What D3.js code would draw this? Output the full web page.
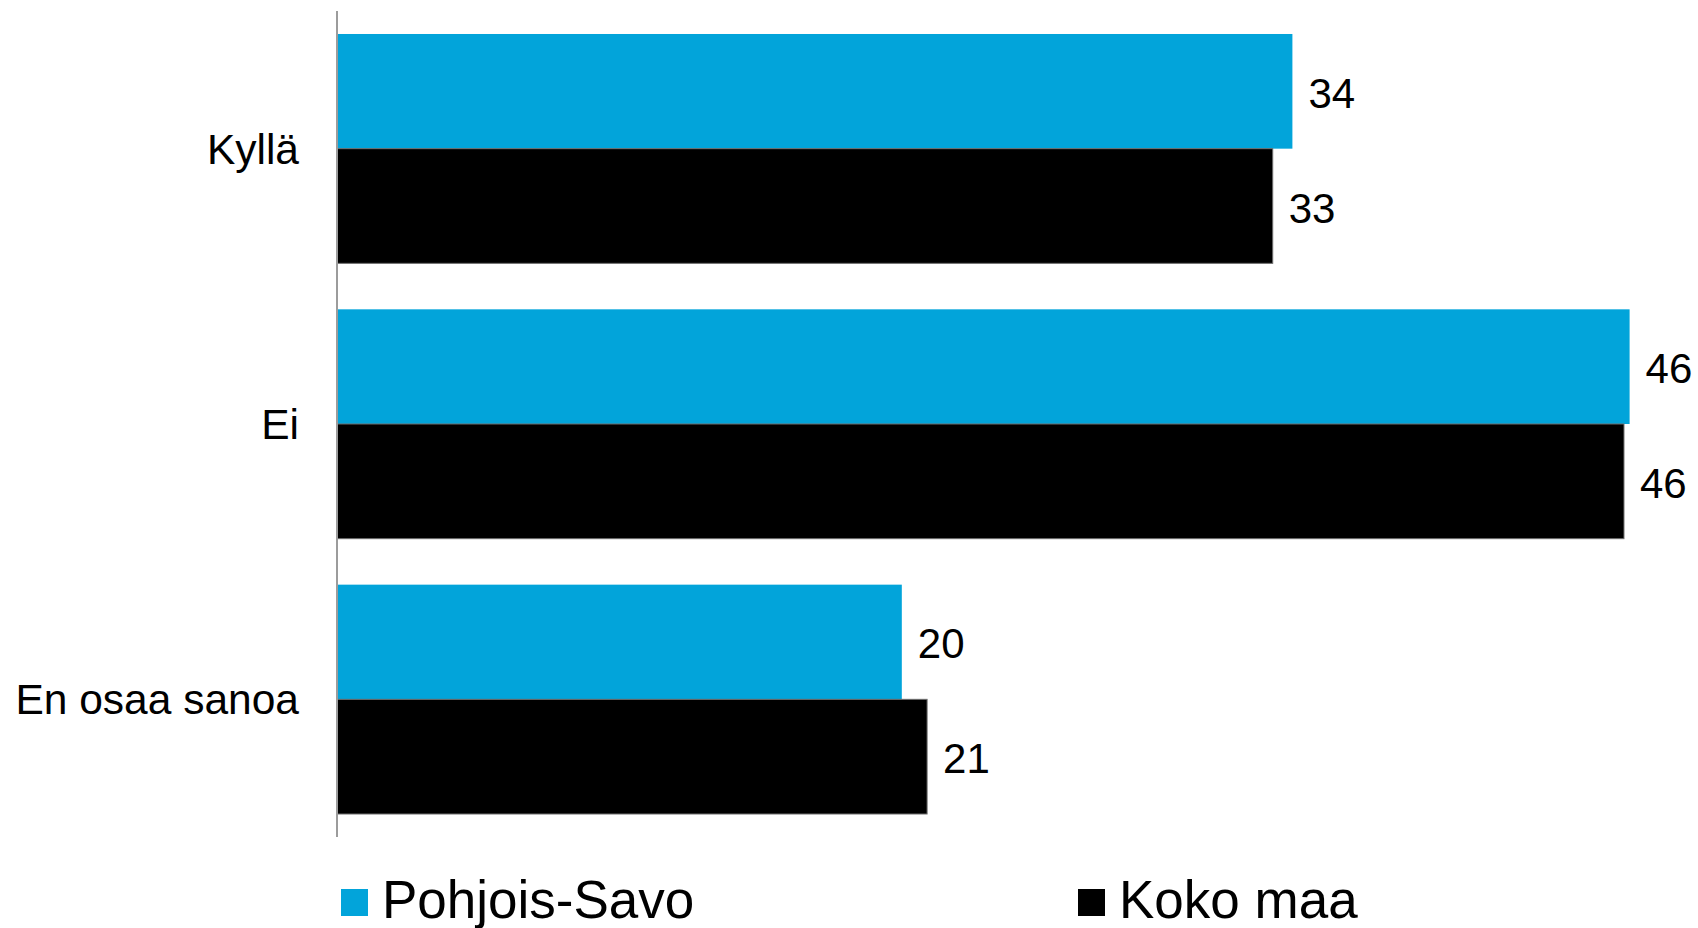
<!DOCTYPE html>
<html>
<head>
<meta charset="utf-8">
<script src="https://cdn.jsdelivr.net/npm/d3@7"></script>
<style>
  html, body { margin: 0; padding: 0; background: #fff; }
  svg { display: block; }
  text { font-family: "Liberation Sans", Arial, sans-serif; fill: #000; }
</style>
</head>
<body>
<svg id="chart" width="1698" height="928"></svg>
<script>
// ---- data ----
const categories = ["Kyllä", "Ei", "En osaa sanoa"];
const seriesNames = ["Pohjois-Savo", "Koko maa"];
const pohjoisSavo = [34.0, 46.0, 20.1];
const kokoMaa = [33.3, 45.8, 21.0];
const seriesColors = ["#02A4DA", "#000000"];

const seriesValues = [pohjoisSavo, kokoMaa];
const rows = [];
categories.forEach((c, i) => {
  seriesNames.forEach((s, j) => {
    rows.push({ category: c, series: s, value: seriesValues[j][i], si: j });
  });
});

// ---- layout ----
const axisX = 337, plotTop = 11, plotBottom = 837;

const svg = d3.select("#chart");

const x = d3.scaleLinear().domain([0, 50]).range([axisX, axisX + 50 * 28.1]);
const y = d3.scaleBand().domain(categories).range([plotTop, plotBottom])
  .paddingInner(0.167).paddingOuter(0.0835);
const ys = d3.scaleBand().domain(seriesNames).range([0, y.bandwidth()]).padding(0);
const color = d3.scaleOrdinal().domain(seriesNames).range(seriesColors);

// bars
svg.append("g").selectAll("rect").data(rows).join("rect")
  .attr("x", axisX)
  .attr("y", d => y(d.category) + ys(d.series))
  .attr("width", d => x(d.value) - axisX)
  .attr("height", ys.bandwidth())
  .attr("fill", d => color(d.series))
  .attr("stroke", d => d.si === 1 ? "#6e6e6e" : "none")
  .attr("stroke-width", 1);

// value labels
svg.append("g").selectAll("text").data(rows).join("text")
  .attr("x", d => x(d.value) + 16)
  .attr("y", d => y(d.category) + ys(d.series) + ys.bandwidth() / 2 + 2)
  .attr("dominant-baseline", "central")
  .attr("font-size", 42)
  .text(d => d3.format(".0f")(d.value));

// category axis (line only, labels on left)
const yAxis = d3.axisLeft(y).tickSize(0).tickPadding(38);
const gA = svg.append("g").attr("transform", `translate(${axisX},0)`).call(yAxis);
gA.select(".domain").attr("stroke", "#9c9c9c").attr("stroke-width", 2)
  .attr("d", `M0,${plotTop}V${plotBottom}`);
gA.selectAll(".tick text")
  .attr("font-size", 42.5)
  .attr("font-family", '"Liberation Sans", Arial, sans-serif')
  .attr("fill", "#000")
  .attr("dy", "0.35em");

// legend
const legendX = [341, 1078];
const lg = svg.append("g").selectAll("g").data(seriesNames).join("g")
  .attr("transform", (d, i) => `translate(${legendX[i]},0)`);
lg.append("rect").attr("x", 0).attr("y", 889).attr("width", 27).attr("height", 27)
  .attr("fill", d => color(d));
lg.append("text").attr("x", 41).attr("y", 918).attr("font-size", 53).text(d => d);
</script>
</body>
</html>
